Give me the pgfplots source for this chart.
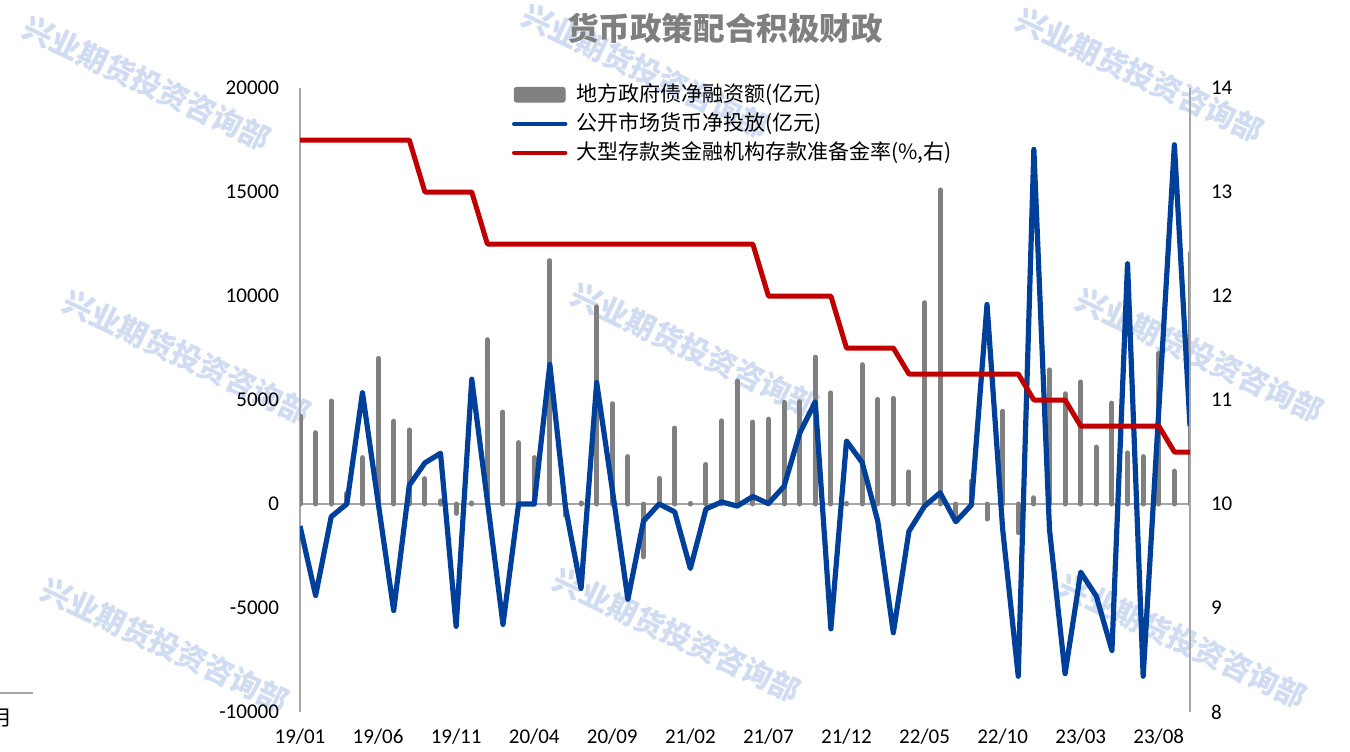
\documentclass[border=0pt]{standalone}
\usepackage{fontspec}
\setmainfont{Carlito}
\newfontfamily\cjk{Noto Sans CJK SC}
\usepackage{pgfplots}
\usepackage{pgfplotstable}
\pgfplotsset{compat=1.18}

\definecolor{bargray}{HTML}{808080}
\definecolor{lineblue}{HTML}{00409A}
\definecolor{linered}{HTML}{C00000}
\definecolor{axisgray}{HTML}{A6A6A6}
\definecolor{titlegray}{HTML}{7F7F7F}
\definecolor{wm}{RGB}{208,220,242}

% i: month index from 19/01; b: local gov bond net financing; l: OMO net injection; r: RRR (%)
\pgfplotstableread{
i b l r
0 4230 -1060 13.5
1 3430 -4400 13.5
2 4950 -610 13.5
3 510 0 13.5
4 2230 5350 13.5
5 7000 100 13.5
6 3980 -5120 13.5
7 3560 900 13.5
8 1220 1980 13.0
9 150 2440 13.0
10 -450 -5880 13.0
11 50 6000 13.0
12 7900 150 12.5
13 4420 -5790 12.5
14 2950 0 12.5
15 2230 0 12.5
16 11700 6710 12.5
17 -550 -150 12.5
18 50 -4060 12.5
19 9480 5840 12.5
20 4820 700 12.5
21 2280 -4580 12.5
22 -2540 -820 12.5
23 1230 0 12.5
24 3650 -380 12.5
25 30 -3100 12.5
26 1900 -240 12.5
27 4000 100 12.5
28 5910 -100 12.5
29 3940 360 12.5
30 4080 20 12.0
31 4890 850 12.0
32 4920 3400 12.0
33 7060 4910 12.0
34 5340 -6000 12.0
35 30 3030 11.5
36 6700 2000 11.5
37 5030 -810 11.5
38 5080 -6190 11.5
39 1540 -1310 11.25
40 9680 -100 11.25
41 15100 540 11.25
42 -650 -850 11.25
43 1100 -50 11.25
44 -720 9590 11.25
45 4460 -1200 11.25
46 -1380 -8280 11.25
47 300 17050 11.0
48 6450 -1220 11.0
49 5300 -8160 11.0
50 5870 -3280 10.75
51 2740 -4430 10.75
52 4850 -7040 10.75
53 2460 11550 10.75
54 2280 -8280 10.75
55 7240 4500 10.75
56 1580 17270 10.5
57 12060 3750 10.5
}\data

\pgfplotsset{
  base/.style={
    at={(150pt,19.5pt)}, anchor=south west,
    scale only axis, width=445pt, height=312pt,
    xmin=0, xmax=57,
    tick style={draw=none}, major tick length=0pt,
    axis line style={draw=axisgray, line width=1pt},
    tick label style={font=\fontsize{10.5}{12}\selectfont},
    scaled y ticks=false,
    /pgf/number format/assume math mode=true,
    /pgf/number format/1000 sep={},
    yticklabel shift=7pt,
  }
}

\begin{document}
\begin{tikzpicture}
\path[use as bounding box] (0,0) rectangle (675pt,375.5pt);

\foreach \x/\y in {147/83, 646/71, 1140/75, 187/357, 695/350, 1200/355, 165/645, 677/635, 1183/641}
  \node[rotate=-25.5, text=wm, font=\cjk\bfseries\fontsize{15}{18}\selectfont]
    at (\x*0.5pt, 375.5pt-\y*0.5pt) {兴业期货投资咨询部};

\node[font=\cjk\bfseries\fontsize{15.8}{19}\selectfont, text=titlegray] at (362.5pt,361.5pt) {货币政策配合积极财政};
\draw[axisgray, line width=0.8pt] (0pt,29pt) -- (16.5pt,29pt);
\node[font=\cjk\fontsize{10.5}{12}\selectfont] at (1pt,16.5pt) {月};

\begin{axis}[base,
  ymin=-10000, ymax=20000, ytick={-10000,-5000,...,20000},
  axis y line*=left, axis x line*=bottom,
  x axis line style={draw=none},
  xtick={0,5,...,55},
  xticklabels={19/01,19/06,19/11,20/04,20/09,21/02,21/07,21/12,22/05,22/10,23/03,23/08},
  xticklabel shift=5pt,
  extra y ticks={0}, extra y tick labels={},
  extra y tick style={grid=major, major grid style={draw=axisgray, line width=1pt}},
]
\addplot[ycomb, draw=bargray, line width=2.5pt, line cap=round] table[x=i,y=b]{\data};
\addplot[draw=lineblue, line width=2.6pt, line join=round, no marks] table[x=i,y=l]{\data};
\end{axis}

\begin{axis}[base,
  ymin=8, ymax=14, ytick={8,...,14},
  axis y line*=right, axis x line=none,
  legend style={at={(0.2382,1.006)}, anchor=north west, draw=none, fill=none,
    inner sep=0pt, outer sep=0pt, row sep=4pt, column sep=4.5pt,
    font=\cjk\fontsize{10.5}{12}\selectfont,
    nodes={inner sep=0pt, text height=8.5pt, text depth=2pt}},
  legend cell align=left,
]
\addlegendimage{legend image code/.code={\fill[bargray, rounded corners=1.2pt] (0pt,-3.7pt) rectangle (25.5pt,3.7pt);}}
\addlegendentry{地方政府债净融资额(亿元)}
\addlegendimage{legend image code/.code={\draw[lineblue, line width=2.2pt, line cap=round] (0pt,0pt) -- (25.5pt,0pt);}}
\addlegendentry{公开市场货币净投放(亿元)}
\addplot[draw=linered, line width=2.5pt, line join=round, no marks,
  legend image code/.code={\draw[linered, line width=2.2pt, line cap=round] (0pt,0pt) -- (25.5pt,0pt);}]
  table[x=i,y=r]{\data};
\addlegendentry{大型存款类金融机构存款准备金率(\%,右)}
\end{axis}
\end{tikzpicture}
\end{document}
